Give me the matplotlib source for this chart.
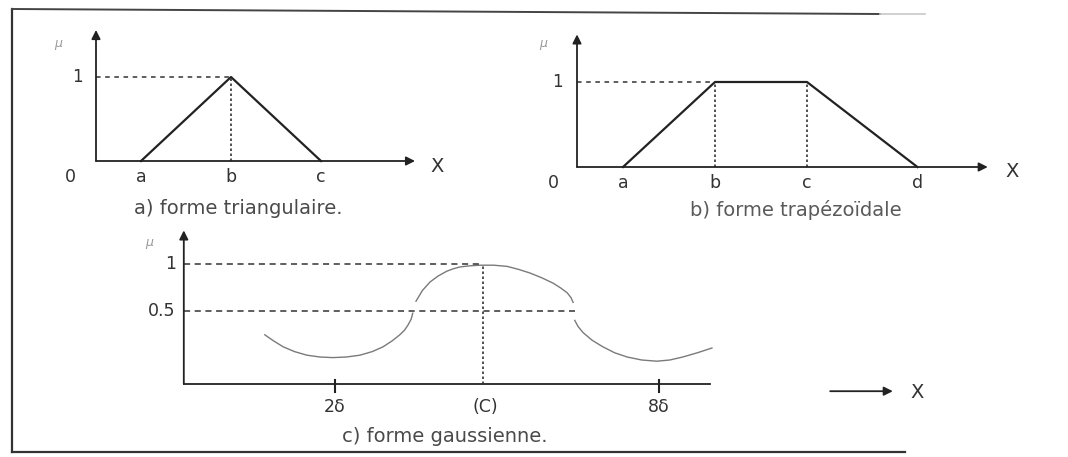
import matplotlib.pyplot as plt
from matplotlib.lines import Line2D

W, H = 1068, 457

# a) forme triangulaire
tri_names = ['a', 'b', 'c']
tri_x = [1.0, 3.0, 5.0]
tri_mu = [0.0, 1.0, 0.0]

# b) forme trapézoïdale
trap_names = ['a', 'b', 'c', 'd']
trap_x = [1.0, 3.0, 5.0, 7.4]
trap_mu = [0.0, 1.0, 1.0, 0.0]

# c) forme gaussienne (x in units of delta), three pieces
g_left_x = [0.70, 0.86, 1.04, 1.25, 1.48, 1.72, 1.96, 2.21, 2.46, 2.69, 2.89, 3.06,
            3.20, 3.29, 3.35, 3.41, 3.44]
g_left_mu = [0.41, 0.36, 0.31, 0.27, 0.24, 0.225, 0.22, 0.225, 0.24, 0.27, 0.31, 0.36,
             0.41, 0.45, 0.49, 0.54, 0.59]
g_mid_x = [3.50, 3.62, 3.76, 3.91, 4.07, 4.19, 4.31, 4.50, 4.69, 4.94, 5.19, 5.40,
           5.61, 5.83, 6.04, 6.18, 6.30, 6.37, 6.41]
g_mid_mu = [0.69, 0.78, 0.85, 0.90, 0.94, 0.96, 0.975, 0.985, 0.99, 0.99, 0.98, 0.955,
            0.925, 0.885, 0.84, 0.80, 0.76, 0.72, 0.68]
g_right_x = [6.44, 6.50, 6.59, 6.76, 6.96, 7.18, 7.41, 7.68, 7.96, 8.20, 8.44, 8.71, 8.98]
g_right_mu = [0.53, 0.48, 0.43, 0.365, 0.31, 0.26, 0.225, 0.20, 0.19, 0.20, 0.225, 0.26, 0.30]
g_ticks = [2, 8]
g_tick_labels = ['2δ', '8δ']
g_center = 4.74
g_levels = [1.0, 0.61]
g_level_labels = ['1', '0.5']

INK = '#222222'
TXT = '#333333'
FONT = 'DejaVu Sans'

fig = plt.figure(figsize=(W / 100, H / 100), dpi=100)


def panel(ox, oy, sx, sy, x0, x1, y0, y1):
    # axes whose data origin sits at pixel (ox, oy) with sx, sy pixels per unit
    left = (ox + sx * x0) / W
    bottom = (H - (oy - sy * y0)) / H
    ax = fig.add_axes([left, bottom, sx * (x1 - x0) / W, sy * (y1 - y0) / H])
    ax.set_xlim(x0, x1)
    ax.set_ylim(y0, y1)
    ax.axis('off')
    return ax


def arrow(ax, x0, y0, x1, y1):
    ax.annotate('', xy=(x1, y1), xytext=(x0, y0),
                arrowprops=dict(arrowstyle='-|>', color=INK, lw=1.3,
                                mutation_scale=13, shrinkA=0, shrinkB=0))


# frame of the scanned figure
fig.add_artist(Line2D([12 / W, 12 / W], [1 - 9 / H, 1 - 452 / H], color='#333', lw=1.6))
fig.add_artist(Line2D([12 / W, 880 / W], [1 - 9 / H, 1 - 14 / H], color='#444', lw=1.4))
fig.add_artist(Line2D([880 / W, 925 / W], [1 - 14 / H, 1 - 14 / H], color='#c8c8c8', lw=1.2))
fig.add_artist(Line2D([12 / W, 905 / W], [1 - 452 / H, 1 - 452 / H], color='#333', lw=1.6))

# ---- a) triangulaire
ax = panel(96, 161, 45, 84, -1.3, 8.3, -0.75, 1.7)
arrow(ax, 0, 0, 0, 1.56)
arrow(ax, 0, 0, 7.09, 0)
ax.plot(tri_x, tri_mu, color=INK, lw=1.6)
ax.plot([0, tri_x[1]], [1, 1], color=TXT, lw=1.1, ls=(0, (3, 3)))
ax.plot([tri_x[1], tri_x[1]], [0, 1], color=TXT, lw=1.2, ls=(0, (1.5, 1.5)))
for n, x in zip(tri_names, tri_x):
    ax.text(x, -0.19, n, ha='center', va='center', fontsize=12.5, color=TXT, family=FONT)
ax.text(-0.58, -0.19, '0', ha='center', va='center', fontsize=12.5, color=TXT, family=FONT)
ax.text(-0.42, 1.0, '1', ha='center', va='center', fontsize=12, color=TXT, family=FONT)
ax.text(-0.84, 1.40, 'μ', ha='center', va='center', fontsize=9, color='#999',
        style='italic', family=FONT)
ax.text(7.58, -0.07, 'X', ha='center', va='center', fontsize=14, color=TXT, family=FONT)
ax.text(3.15, -0.56, 'a) forme triangulaire.', ha='center', va='center', fontsize=14,
        color='#4a4a4a', family=FONT)

# ---- b) trapézoïdale
ax = panel(577, 167, 46, 85, -1.2, 10.2, -0.7, 1.65)
arrow(ax, 0, 0, 0, 1.56)
arrow(ax, 0, 0, 8.93, 0)
ax.plot(trap_x, trap_mu, color=INK, lw=1.6)
ax.plot([0, trap_x[1]], [1, 1], color=TXT, lw=1.1, ls=(0, (3, 3)))
for x in trap_x[1:3]:
    ax.plot([x, x], [0, 1], color=TXT, lw=1.2, ls=(0, (1.5, 1.5)))
for n, x in zip(trap_names, trap_x):
    ax.text(x, -0.19, n, ha='center', va='center', fontsize=12.5, color=TXT, family=FONT)
ax.text(-0.52, -0.19, '0', ha='center', va='center', fontsize=12.5, color=TXT, family=FONT)
ax.text(-0.43, 1.0, '1', ha='center', va='center', fontsize=12, color=TXT, family=FONT)
ax.text(-0.74, 1.45, 'μ', ha='center', va='center', fontsize=9, color='#999',
        style='italic', family=FONT)
ax.text(9.46, -0.05, 'X', ha='center', va='center', fontsize=14, color=TXT, family=FONT)
ax.text(4.75, -0.51, 'b) forme trapézoïdale', ha='center', va='center', fontsize=14,
        color='#5a5a5a', family=FONT)

# ---- c) gaussienne
ax = panel(227, 384, 54, 120, -1.7, 13.3, -0.5, 1.35)
y_axis_x = -0.8
arrow(ax, y_axis_x, 0, y_axis_x, 1.28)
ax.plot([y_axis_x, 8.94], [0, 0], color=INK, lw=1.3)
arrow(ax, 11.17, -0.06, 12.33, -0.06)
ax.text(12.78, -0.075, 'X', ha='center', va='center', fontsize=14, color=TXT, family=FONT)
for xs, ys in [(g_left_x, g_left_mu), (g_mid_x, g_mid_mu), (g_right_x, g_right_mu)]:
    ax.plot(xs, ys, color='#7a7a7a', lw=1.0)
ax.plot([y_axis_x, g_center], [g_levels[0]] * 2, color=TXT, lw=1.1, ls=(0, (4, 3)))
ax.plot([y_axis_x, g_right_x[0]], [g_levels[1]] * 2, color=TXT, lw=1.1, ls=(0, (4, 3)))
ax.plot([g_center, g_center], [0, g_levels[0]], color=TXT, lw=1.2, ls=(0, (1.5, 1.5)))
for t, lab in zip(g_ticks, g_tick_labels):
    ax.plot([t, t], [-0.07, 0.03], color=INK, lw=1.5)
    ax.text(t, -0.19, lab, ha='center', va='center', fontsize=12.5, color=TXT, family=FONT)
ax.text(g_center + 0.05, -0.19, '(C)', ha='center', va='center', fontsize=12.5, color=TXT,
        family=FONT)
for lv, lab in zip(g_levels, g_level_labels):
    ax.text(y_axis_x - 0.15, lv, lab, ha='right', va='center', fontsize=12.5, color=TXT,
            family=FONT)
ax.text(-1.44, 1.18, 'μ', ha='center', va='center', fontsize=9, color='#999',
        style='italic', family=FONT)
ax.text(4.04, -0.44, 'c) forme gaussienne.', ha='center', va='center', fontsize=14,
        color='#4a4a4a', family=FONT)

fig.savefig('out.png', dpi=100)
